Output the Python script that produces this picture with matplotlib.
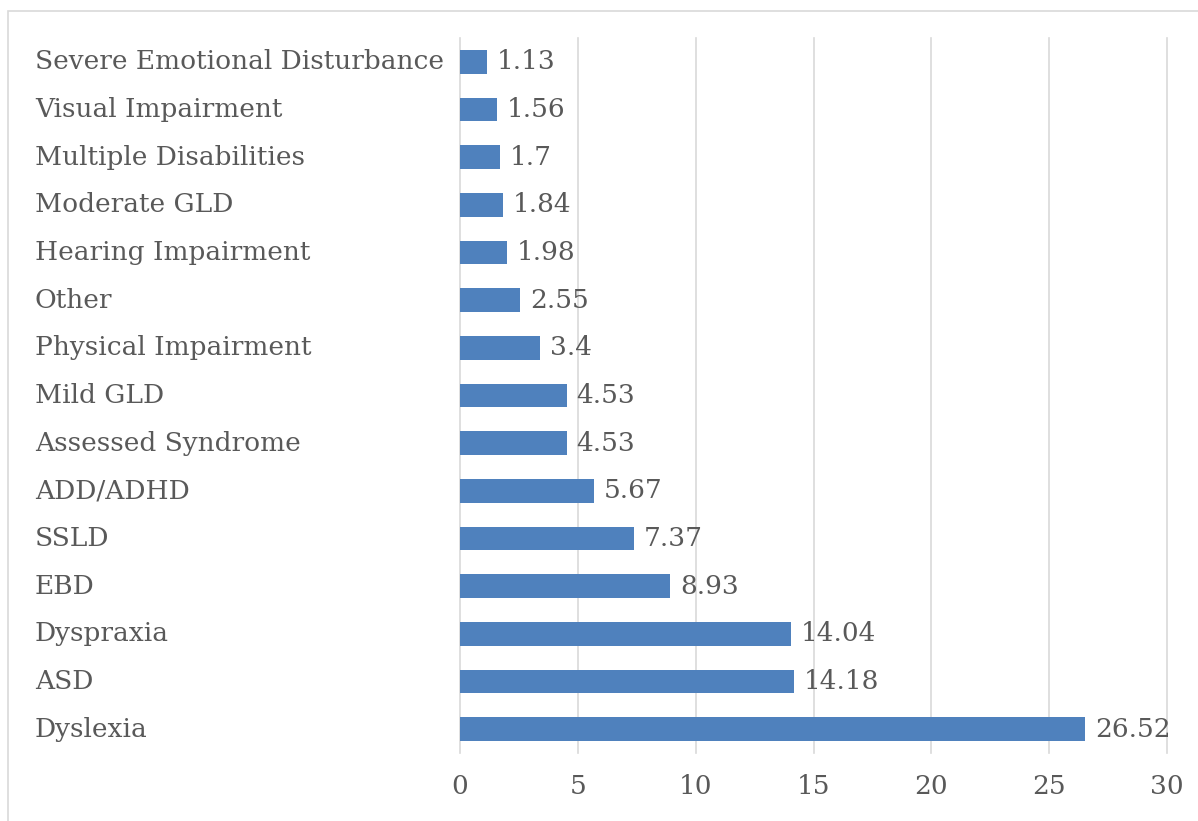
import matplotlib.pyplot as plt
import matplotlib.transforms as mtransforms
from matplotlib.patches import Rectangle

# Categories listed bottom to top
categories = [
    "Dyslexia", "ASD", "Dyspraxia", "EBD", "SSLD", "ADD/ADHD",
    "Assessed Syndrome", "Mild GLD", "Physical Impairment", "Other",
    "Hearing Impairment", "Moderate GLD", "Multiple Disabilities",
    "Visual Impairment", "Severe Emotional Disturbance",
]
values = [26.52, 14.18, 14.04, 8.93, 7.37, 5.67, 4.53, 4.53, 3.4, 2.55,
          1.98, 1.84, 1.7, 1.56, 1.13]
value_labels = ["26.52", "14.18", "14.04", "8.93", "7.37", "5.67", "4.53",
                "4.53", "3.4", "2.55", "1.98", "1.84", "1.7", "1.56", "1.13"]
xticks = [0, 5, 10, 15, 20, 25, 30]

BAR_COLOR = "#4F81BD"
TEXT_COLOR = "#595959"
GRID_COLOR = "#D9D9D9"
FONT = "DejaVu Serif"
FS = 19

fig = plt.figure(figsize=(11.98, 8.21), dpi=100)
ax = fig.add_axes([460 / 1198, 68 / 821, 707 / 1198, 715 / 821])

# chart area border
fig.patches.append(Rectangle((8 / 1198, -0.01), 1.0, 1 - 11 / 821 + 0.01,
                             transform=fig.transFigure, fill=False,
                             edgecolor=GRID_COLOR, linewidth=1.2))

ypos = list(range(len(categories)))
ax.barh(ypos, values, height=0.5, color=BAR_COLOR, zorder=3)

for y, v, lab in zip(ypos, values, value_labels):
    ax.annotate(lab, (v, y), xytext=(7, 0), textcoords="offset points",
                va="center", ha="left", fontsize=FS, color=TEXT_COLOR,
                family=FONT)

# left-aligned category labels
trans = mtransforms.blended_transform_factory(fig.transFigure, ax.transData)
for y, name in zip(ypos, categories):
    ax.text(35 / 1198, y, name, transform=trans, va="center", ha="left",
            fontsize=FS, color=TEXT_COLOR, family=FONT)

ax.set_xlim(0, 30)
ax.set_ylim(-0.5, len(categories) - 0.5)
ax.set_xticks(xticks)
ax.set_xticklabels([str(t) for t in xticks], fontsize=FS, color=TEXT_COLOR,
                   family=FONT)
ax.set_yticks([])
ax.tick_params(axis="x", length=0, pad=15)
ax.grid(axis="x", color=GRID_COLOR, linewidth=1.2, zorder=0)
for line in ax.get_xgridlines():
    line.set_clip_on(False)
for s in ax.spines.values():
    s.set_visible(False)

fig.savefig("out.png", dpi=100)
